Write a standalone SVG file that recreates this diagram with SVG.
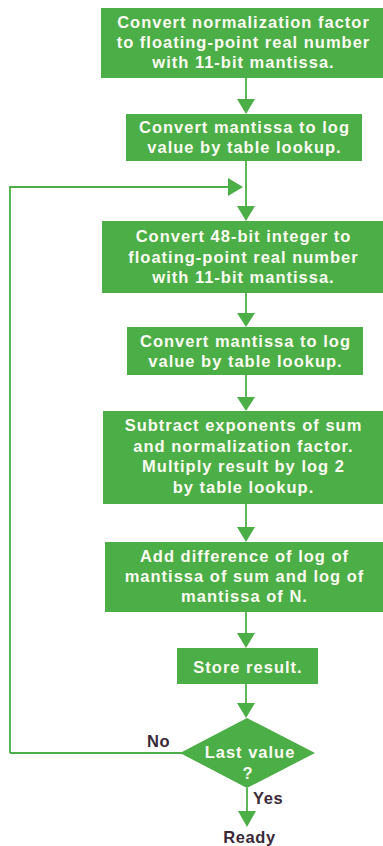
<svg xmlns="http://www.w3.org/2000/svg" width="383" height="846" viewBox="0 0 383 846">
<style>
.box{fill:#4cae46}
.t{font-family:"Liberation Sans",Arial,sans-serif;font-weight:bold;font-size:16.5px;letter-spacing:1px;fill:#fbfbf2;text-anchor:middle}
.l{font-family:"Liberation Sans",Arial,sans-serif;font-weight:bold;font-size:16.5px;letter-spacing:0.6px;fill:#3a2a38}
.ln{stroke:#4cae46;stroke-width:1.8;fill:none}
.ah{fill:#4cae46}
</style>
<rect width="383" height="846" fill="#ffffff"/>
<g id="connectors">
<path class="ln" d="M246 78V100"/>
<polygon class="ah" points="237,99 255,99 246,114"/>
<path class="ln" d="M246 161V206"/>
<path class="ln" d="M10 753V187H230"/>
<polygon class="ah" points="228,178 228,196 243,187"/>
<polygon class="ah" points="237,206 255,206 246,221"/>
<path class="ln" d="M246 293V313"/>
<polygon class="ah" points="237,313 255,313 246,327"/>
<path class="ln" d="M246 375V397"/>
<polygon class="ah" points="237,397 255,397 246,411"/>
<path class="ln" d="M246 504V528"/>
<polygon class="ah" points="237,527 255,527 246,542"/>
<path class="ln" d="M246 612V634"/>
<polygon class="ah" points="237,633 255,633 246,648"/>
<path class="ln" d="M246 684V704"/>
<polygon class="ah" points="237,703 255,703 246,718"/>
<path class="ln" d="M10 753H182"/>
<path class="ln" d="M247 788V812"/>
<polygon class="ah" points="238,811 256,811 247,827"/>
</g>
<g id="n1"><rect class="box" x="101" y="8" width="282" height="70"/>
<text class="t" x="243.5" y="28">Convert normalization factor</text>
<text class="t" x="243.5" y="48">to floating-point real number</text>
<text class="t" x="243.5" y="68">with 11-bit mantissa.</text></g>
<g id="n2"><rect class="box" x="126" y="114" width="236" height="47"/>
<text class="t" x="244.5" y="133">Convert mantissa to log</text>
<text class="t" x="244.5" y="153">value by table lookup.</text></g>
<g id="n3"><rect class="box" x="102" y="221" width="281" height="72"/>
<text class="t" x="243.5" y="242">Convert 48-bit integer to</text>
<text class="t" x="243.5" y="263">floating-point real number</text>
<text class="t" x="243.5" y="283">with 11-bit mantissa.</text></g>
<g id="n4"><rect class="box" x="127" y="327" width="236" height="48"/>
<text class="t" x="245.5" y="347">Convert mantissa to log</text>
<text class="t" x="245.5" y="367">value by table lookup.</text></g>
<g id="n5"><rect class="box" x="103" y="411" width="280" height="93"/>
<text class="t" x="243.5" y="431">Subtract exponents of sum</text>
<text class="t" x="243.5" y="452">and normalization factor.</text>
<text class="t" x="243.5" y="472">Multiply result by log 2</text>
<text class="t" x="243.5" y="493">by table lookup.</text></g>
<g id="n6"><rect class="box" x="105" y="542" width="278" height="70"/>
<text class="t" x="244.5" y="562">Add difference of log of</text>
<text class="t" x="244.5" y="582">mantissa of sum and log of</text>
<text class="t" x="244.5" y="602">mantissa of N.</text></g>
<g id="n7"><rect class="box" x="177" y="648" width="141" height="36"/>
<text class="t" x="248" y="673">Store result.</text></g>
<g id="n8"><polygon class="box" points="247,718 315,753 247,788 180,753"/>
<text class="t" x="250" y="758">Last value</text>
<text class="t" x="248" y="779">?</text></g>
<g id="labels">
<text class="l" x="147" y="747">No</text>
<text class="l" x="253" y="804">Yes</text>
<text class="l" x="249.5" y="843" text-anchor="middle">Ready</text>
</g>
</svg>
